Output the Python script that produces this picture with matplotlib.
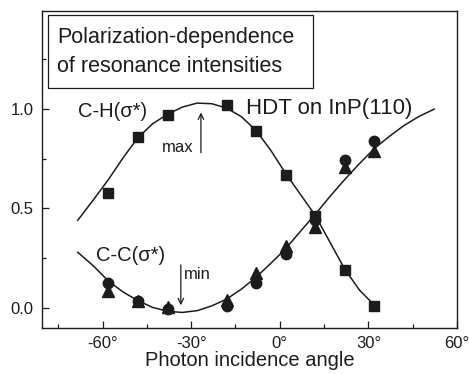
"""Polarization dependence of the C-H and C-C sigma* resonance intensities."""

import matplotlib

matplotlib.use("Agg")

import matplotlib.pyplot as plt
from matplotlib.patches import Rectangle
from matplotlib.ticker import FixedLocator

plt.rcParams["font.family"] = ["Liberation Sans", "DejaVu Sans"]

# Measured intensities (normalised) per photon incidence angle
angles = [-58, -48, -38, -18, -8, 2, 12, 22, 32]
ch_squares = [0.575, 0.856, 0.966, 1.02, 0.888, 0.666, 0.46, 0.192, 0.012]
cc_circles = [0.128, 0.037, -0.005, 0.008, 0.125, 0.272, 0.44, 0.744, 0.836]
cc_triangles = [0.085, 0.035, 0.006, 0.04, 0.175, 0.31, 0.405, 0.71, 0.79]

# Fitted curves
ch_fit_angles = [-68.4, -63, -58, -53, -48, -43, -38, -33, -28, -23, -18,
                 -13, -8, -3, 2, 7, 12, 17, 22, 27, 32.3]
ch_fit_values = [0.44, 0.545, 0.645, 0.755, 0.855, 0.925, 0.972, 1.008,
                 1.028, 1.025, 1.003, 0.96, 0.89, 0.79, 0.675, 0.57, 0.465,
                 0.33, 0.195, 0.09, 0.01]
cc_fit_angles = [-68.4, -63, -58, -53, -48, -43, -38, -33, -28, -23, -18,
                 -13, -8, -3, 2, 7, 12, 17, 22, 27, 32, 37, 42, 47, 52.3]
cc_fit_values = [0.28, 0.21, 0.135, 0.08, 0.037, 0.003, -0.016, -0.022,
                 -0.013, 0.011, 0.045, 0.095, 0.155, 0.225, 0.298, 0.385,
                 0.47, 0.56, 0.645, 0.725, 0.80, 0.86, 0.915, 0.96, 0.998]

x_major = [-60, -30, 0, 30, 60]
x_major_labels = ["-60°", "-30°", "0°", "30°", "60°"]
x_minor = [-75, -45, -15, 15, 45]
y_major = [0.0, 0.5, 1.0]
y_major_labels = ["0.0", "0.5", "1.0"]
y_minor = [0.25, 0.75, 1.25]

INK = "#1c1c1c"

fig = plt.figure(figsize=(4.69, 3.74), dpi=100)
ax = fig.add_axes([0.0896, 0.123, 0.8848, 0.8476])

ax.plot(ch_fit_angles, ch_fit_values, color=INK, lw=1.1)
ax.plot(cc_fit_angles, cc_fit_values, color=INK, lw=1.1)

ax.plot(angles, cc_triangles, ls="none", marker="^", ms=8, color=INK)
ax.plot(angles, cc_circles, ls="none", marker="o", ms=7.5, color=INK)
ax.plot(angles, ch_squares, ls="none", marker="s", ms=7.2, color=INK)

ax.set_xlim(-80.5, 60)
ax.set_ylim(-0.1, 1.49)

ax.xaxis.set_major_locator(FixedLocator(x_major))
ax.xaxis.set_minor_locator(FixedLocator(x_minor))
ax.set_xticklabels(x_major_labels)
ax.yaxis.set_major_locator(FixedLocator(y_major))
ax.yaxis.set_minor_locator(FixedLocator(y_minor))
ax.set_yticklabels(y_major_labels)

ax.tick_params(which="both", direction="in", color=INK, width=0.9,
               labelcolor=INK, labelsize=12, top=False, right=False)
ax.tick_params(which="major", length=5, pad=6)
ax.tick_params(which="minor", length=3)
for spine in ax.spines.values():
    spine.set_color(INK)
    spine.set_linewidth(1.0)

ax.set_xlabel("Photon incidence angle", fontsize=14.5, color=INK, labelpad=0)

# Curve labels and extremum arrows
ax.text(-68.3, 0.985, "C-H(σ*)", fontsize=14.5, color=INK, va="center")
ax.text(-62.2, 0.262, "C-C(σ*)", fontsize=14.5, color=INK, va="center")
ax.text(-11.4, 1.0, "HDT on InP(110)", fontsize=16, color=INK, va="center")

ax.annotate("", xy=(-26.7, 0.995), xytext=(-26.7, 0.765),
            arrowprops=dict(arrowstyle="->", color=INK, lw=0.9))
ax.text(-29.3, 0.806, "max", fontsize=12, color=INK, ha="right", va="center")
ax.annotate("", xy=(-33.5, 0.0), xytext=(-33.5, 0.23),
            arrowprops=dict(arrowstyle="->", color=INK, lw=0.9))
ax.text(-32.6, 0.17, "min", fontsize=12, color=INK, ha="left", va="center")

# Title box in the upper left corner
ax.add_patch(Rectangle((0.0145, 0.757), 0.6385, 0.23, transform=ax.transAxes,
                       fill=False, edgecolor=INK, lw=0.9))
ax.text(0.036, 0.916, "Polarization-dependence", transform=ax.transAxes,
        fontsize=15.5, color=INK, va="center")
ax.text(0.036, 0.824, "of resonance intensities", transform=ax.transAxes,
        fontsize=15.5, color=INK, va="center")

fig.savefig("out.png", dpi=100)
plt.close(fig)
